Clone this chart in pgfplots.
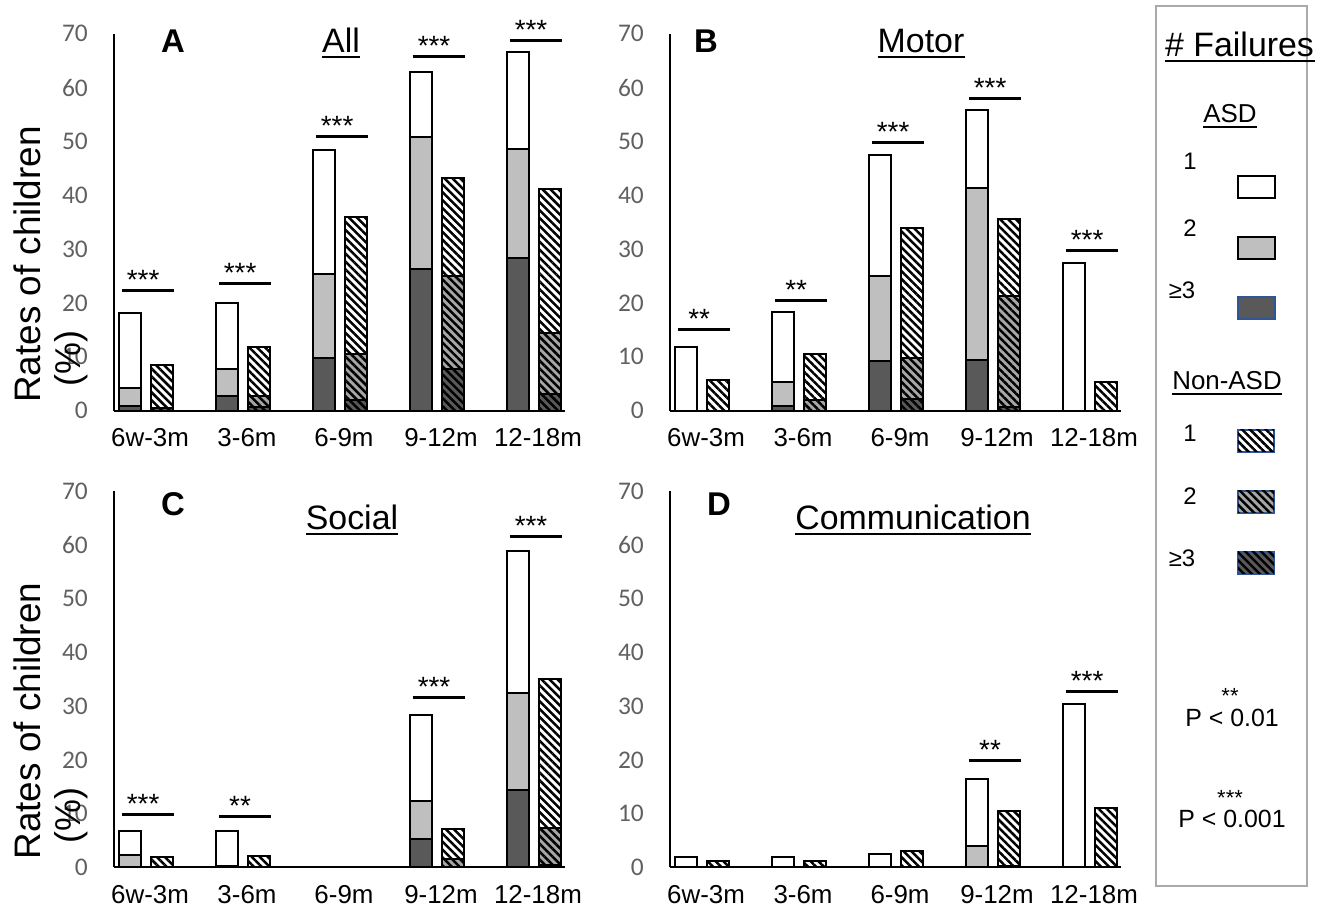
\documentclass[border=0pt]{standalone}
\usepackage{fontspec}
\setmainfont{Liberation Sans}
\newfontfamily\calibri{Carlito}
\usepackage{pgfplots}
\pgfplotsset{compat=1.18}
\usetikzlibrary{patterns.meta}
\definecolor{lg}{RGB}{191,191,191}
\definecolor{dg}{RGB}{89,89,89}
\definecolor{hg}{RGB}{166,166,166}
\definecolor{tickgray}{RGB}{96,96,96}
\definecolor{boxgray}{RGB}{170,170,170}
\definecolor{legblue}{RGB}{47,85,151}
\tikzset{
  hatch/.style={postaction={pattern={Lines[angle=-45,distance=5.6bp,line width=2.5bp]},pattern color=black}},
  star/.style={font=\fontsize{28}{30}\selectfont, anchor=base, inner sep=0pt, yshift=1bp},
  ttl/.style={font=\fontsize{34}{36}\selectfont, anchor=base, inner sep=0pt},
  let/.style={font=\bfseries\fontsize{33}{35}\selectfont, anchor=base, inner sep=0pt},
}
\pgfplotsset{
  panel/.style={
    scale only axis, width=451bp,
    xmin=-0.33, xmax=4.32, ymin=0, ymax=70,
    axis x line=bottom, axis y line=left,
    axis line style={black, line width=2.2bp, -},
    xtick={0,1,2,3,4}, xticklabels={6w-3m,3-6m,6-9m,9-12m,12-18m},
    ytick={0,10,20,30,40,50,60,70}, yticklabels={0,10,20,30,40,50,60,70},
    major tick length=0pt,
    xticklabel style={font=\fontsize{26}{30}\selectfont, anchor=north, inner sep=0pt, yshift=-17.5bp, xshift=4bp},
    yticklabel style={font=\calibri\fontsize{25.5}{30}\selectfont, color=tickgray, anchor=east, inner sep=0pt, xshift=-26bp},
    clip=false,
  },
  barA/.style={ybar, bar width=0.227, bar shift=0pt, draw=black, line width=2bp},
  sigl/.style={black, line width=3bp},
}
\begin{document}
\begin{tikzpicture}[x=1bp,y=1bp]
\path[use as bounding box] (0,0) rectangle (1326,906);

% ---------------- A ----------------
\begin{axis}[panel, height=377bp, at={(114bp,495.3bp)}, anchor=south west]
\addplot[barA, fill=white] coordinates {(-0.165,18.1) (0.835,20.0) (1.835,48.4) (2.835,62.8) (3.835,66.6)};
\addplot[barA, fill=lg] coordinates {(-0.165,4.3) (0.835,7.7) (1.835,25.4) (2.835,50.8) (3.835,48.5)};
\addplot[barA, fill=dg] coordinates {(-0.165,0.9) (0.835,2.7) (1.835,9.7) (2.835,26.3) (3.835,28.3)};
\addplot[barA, fill=white, hatch] coordinates {(0.165,8.4) (1.165,11.9) (2.165,36.0) (3.165,43.2) (4.165,41.2)};
\addplot[barA, fill=hg, hatch] coordinates {(1.165,2.7) (2.165,10.6) (3.165,25.0) (4.165,14.4)};
\addplot[barA, fill=dg, hatch] coordinates {(0.165,0.5) (1.165,0.6) (2.165,2.0) (3.165,7.7) (4.165,3.1)};
\addplot[sigl] coordinates {(-0.25,22.4) (0.29,22.4)};
\addplot[sigl] coordinates {(0.75,23.7) (1.29,23.7)};
\addplot[sigl] coordinates {(1.75,51.0) (2.29,51.0)};
\addplot[sigl] coordinates {(2.75,65.7) (3.29,65.7)};
\addplot[sigl] coordinates {(3.75,68.7) (4.29,68.7)};
\node[star] at (axis cs:-0.03,22.4) {***};
\node[star] at (axis cs:0.97,23.7) {***};
\node[star] at (axis cs:1.97,51.0) {***};
\node[star] at (axis cs:2.97,65.7) {***};
\node[star] at (axis cs:3.97,68.7) {***};
\end{axis}

% ---------------- B ----------------
\begin{axis}[panel, height=377bp, at={(670bp,495.3bp)}, anchor=south west]
\addplot[barA, fill=white] coordinates {(-0.165,11.9) (0.835,18.4) (1.835,47.4) (2.835,55.9) (3.835,27.5)};
\addplot[barA, fill=lg] coordinates {(0.835,5.4) (1.835,25.0) (2.835,41.3)};
\addplot[barA, fill=dg] coordinates {(0.835,0.9) (1.835,9.3) (2.835,9.5)};
\addplot[barA, fill=white, hatch] coordinates {(0.165,5.7) (1.165,10.5) (2.165,34.0) (3.165,35.5) (4.165,5.4)};
\addplot[barA, fill=hg, hatch] coordinates {(1.165,1.9) (2.165,9.7) (3.165,21.3)};
\addplot[barA, fill=dg, hatch] coordinates {(2.165,2.2) (3.165,0.6)};
\addplot[sigl] coordinates {(-0.25,15.1) (0.29,15.1)};
\addplot[sigl] coordinates {(0.75,20.4) (1.29,20.4)};
\addplot[sigl] coordinates {(1.75,49.8) (2.29,49.8)};
\addplot[sigl] coordinates {(2.75,57.9) (3.29,57.9)};
\addplot[sigl] coordinates {(3.75,29.8) (4.29,29.8)};
\node[star] at (axis cs:-0.03,15.1) {**};
\node[star] at (axis cs:0.97,20.4) {**};
\node[star] at (axis cs:1.97,49.8) {***};
\node[star] at (axis cs:2.97,57.9) {***};
\node[star] at (axis cs:3.97,29.8) {***};
\end{axis}

% ---------------- C ----------------
\begin{axis}[panel, height=376bp, at={(114bp,38.7bp)}, anchor=south west]
\addplot[barA, fill=white] coordinates {(-0.165,6.8) (0.835,6.8) (2.835,28.4) (3.835,58.9)};
\addplot[barA, fill=lg] coordinates {(-0.165,2.2) (2.835,12.4) (3.835,32.5)};
\addplot[barA, fill=dg] coordinates {(0.835,0.3) (2.835,5.2) (3.835,14.3)};
\addplot[barA, fill=white, hatch] coordinates {(0.165,1.9) (1.165,2.1) (3.165,7.1) (4.165,35.0)};
\addplot[barA, fill=hg, hatch] coordinates {(3.165,1.5) (4.165,7.4)};
\addplot[barA, fill=dg, hatch] coordinates {(4.165,0.4)};
\addplot[sigl] coordinates {(-0.25,9.9) (0.29,9.9)};
\addplot[sigl] coordinates {(0.75,9.4) (1.29,9.4)};
\addplot[sigl] coordinates {(2.75,31.6) (3.29,31.6)};
\addplot[sigl] coordinates {(3.75,61.6) (4.29,61.6)};
\node[star] at (axis cs:-0.03,9.9) {***};
\node[star] at (axis cs:0.97,9.4) {**};
\node[star] at (axis cs:2.97,31.6) {***};
\node[star] at (axis cs:3.97,61.6) {***};
\end{axis}

% ---------------- D ----------------
\begin{axis}[panel, height=376bp, at={(670bp,38.7bp)}, anchor=south west]
\addplot[barA, fill=white] coordinates {(-0.165,1.9) (0.835,1.9) (1.835,2.4) (2.835,16.5) (3.835,30.4)};
\addplot[barA, fill=lg] coordinates {(2.835,3.9)};
\addplot[barA, fill=white, hatch] coordinates {(0.165,1.2) (1.165,1.2) (2.165,3.1) (3.165,10.4) (4.165,11.1)};
\addplot[barA, fill=dg, hatch] coordinates {(3.165,0.3)};
\addplot[sigl] coordinates {(2.75,19.8) (3.29,19.8)};
\addplot[sigl] coordinates {(3.75,32.7) (4.29,32.7)};
\node[star] at (axis cs:2.97,19.8) {**};
\node[star] at (axis cs:3.97,32.7) {***};
\end{axis}

% ---------------- panel letters and titles ----------------
\node[let] at (173,853) {A};
\node[let] at (706,853) {B};
\node[let] at (173,390) {C};
\node[let] at (719,390) {D};
\node[ttl] (tA) at (341,853) {All};
\draw[line width=2.2bp] ([yshift=-4]tA.base west) -- ([yshift=-4]tA.base east);
\node[ttl] (tB) at (921,853) {Motor};
\draw[line width=2.2bp] ([yshift=-4]tB.base west) -- ([yshift=-4]tB.base east);
\node[ttl] (tC) at (352,376) {Social};
\draw[line width=2.2bp] ([yshift=-4]tC.base west) -- ([yshift=-4]tC.base east);
\node[ttl] (tD) at (913,376) {Communication};
\draw[line width=2.2bp] ([yshift=-4]tD.base west) -- ([yshift=-4]tD.base east);

% ---------------- y labels ----------------
\node[rotate=90, anchor=base west, inner sep=0pt, font=\fontsize{37}{40}\selectfont] at (40,503) {Rates of children};
\node[rotate=90, anchor=base west, inner sep=0pt, font=\fontsize{36}{40}\selectfont] at (80,519) {(\%)};
\node[rotate=90, anchor=base west, inner sep=0pt, font=\fontsize{37}{40}\selectfont] at (40,46.4) {Rates of children};
\node[rotate=90, anchor=base west, inner sep=0pt, font=\fontsize{36}{40}\selectfont] at (80,62.4) {(\%)};

% ---------------- legend ----------------
\draw[boxgray, line width=2bp] (1156,900) rectangle (1307,20);
\node[anchor=base west, inner sep=0pt, font=\fontsize{34}{36}\selectfont] (lf) at (1165,849) {\# Failures};
\draw[line width=2bp] (1165,845) -- (1315,845);
\node[anchor=base, inner sep=0pt, font=\fontsize{26}{28}\selectfont] (la) at (1230,783) {ASD};
\draw[line width=1.6bp] ([yshift=-4]la.base west) -- ([yshift=-4]la.base east);
\node[anchor=base, inner sep=0pt, font=\fontsize{24}{26}\selectfont] at (1190,736) {1};
\node[anchor=base, inner sep=0pt, font=\fontsize{24}{26}\selectfont] at (1190,669) {2};
\node[anchor=base, inner sep=0pt, font=\fontsize{24}{26}\selectfont] at (1182,607) {≥3};
\draw[black, line width=2bp, fill=white] (1238,708) rectangle (1275,730);
\draw[black, line width=2bp, fill=lg] (1238,647) rectangle (1275,669);
\draw[legblue, line width=1.5bp, fill=dg] (1238,587) rectangle (1275,609);
\node[anchor=base, inner sep=0pt, font=\fontsize{26}{28}\selectfont] (ln) at (1227,516) {Non-ASD};
\draw[line width=1.6bp] ([yshift=-4]ln.base west) -- ([yshift=-4]ln.base east);
\node[anchor=base, inner sep=0pt, font=\fontsize{24}{26}\selectfont] at (1190,464) {1};
\node[anchor=base, inner sep=0pt, font=\fontsize{24}{26}\selectfont] at (1190,401) {2};
\node[anchor=base, inner sep=0pt, font=\fontsize{24}{26}\selectfont] at (1182,339) {≥3};
\draw[legblue, line width=1.5bp, fill=white, hatch] (1238,454) rectangle (1274,476);
\draw[legblue, line width=1.5bp, fill=hg, hatch] (1238,393) rectangle (1274,415);
\draw[legblue, line width=1.5bp, fill=dg, hatch] (1238,332) rectangle (1274,354);
\node[anchor=base, inner sep=0pt, font=\fontsize{22}{24}\selectfont] at (1230,203) {**};
\node[anchor=base, inner sep=0pt, font=\fontsize{25}{27}\selectfont] at (1232,180) {P < 0.01};
\node[anchor=base, inner sep=0pt, font=\fontsize{22}{24}\selectfont] at (1230,101) {***};
\node[anchor=base, inner sep=0pt, font=\fontsize{25}{27}\selectfont] at (1232,79) {P < 0.001};
\end{tikzpicture}
\end{document}
